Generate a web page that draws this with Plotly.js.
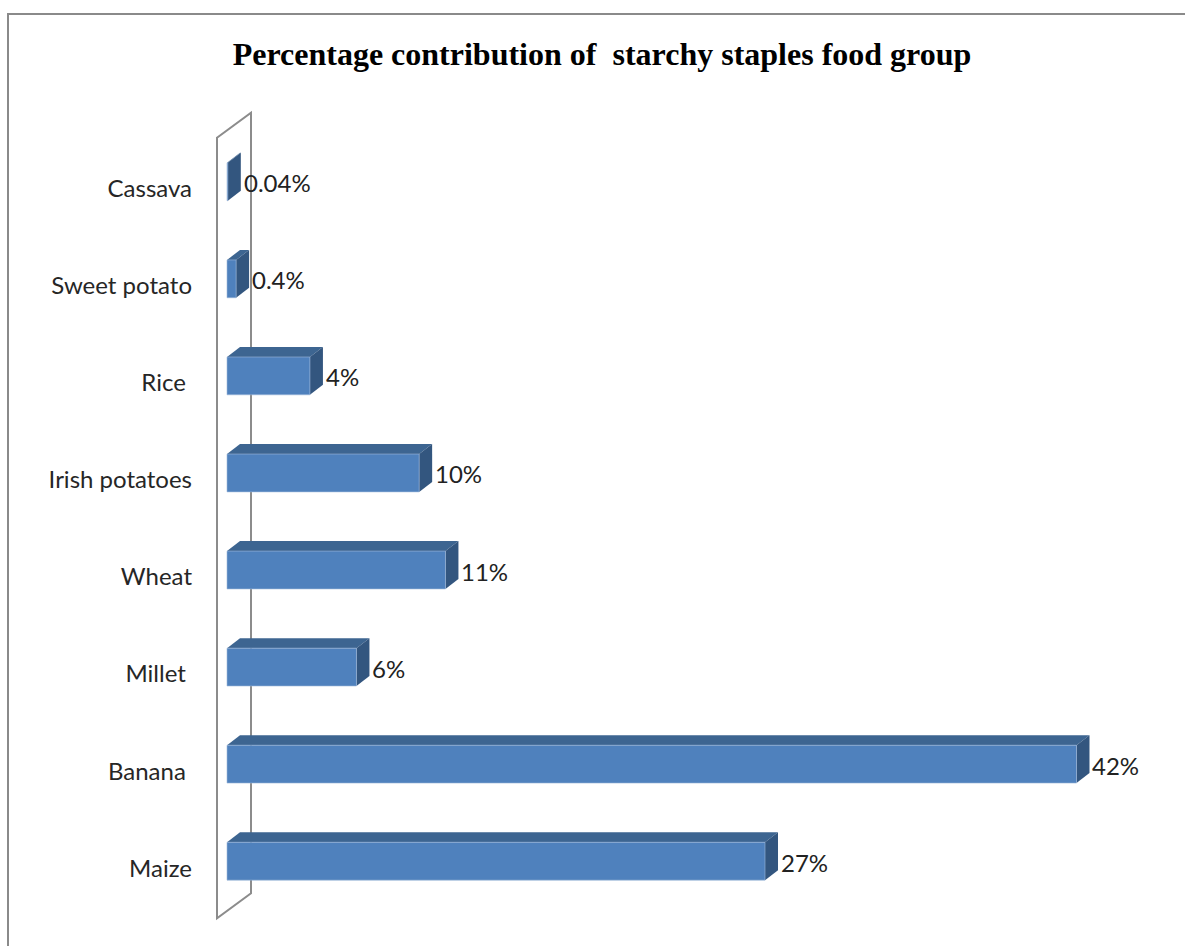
<!DOCTYPE html>
<html>
<head>
<meta charset="utf-8">
<script src="https://cdn.plot.ly/plotly-3.0.1.min.js"></script>
<style>
  html, body { margin:0; padding:0; background:#fff; overflow:hidden; }
  #chart { position:absolute; left:0; top:0; width:1185px; height:946px; }
  #frame { position:absolute; left:7px; top:13px; width:1300px; height:1100px;
           border-left:2px solid #8a8a8a; border-top:2px solid #8a8a8a; pointer-events:none; z-index:5; }
</style>
</head>
<body>
<div id="chart"></div>
<div id="frame"></div>
<script>
// ---- data (bottom to top, as drawn) ----
const categories  = ["Maize", "Banana ", "Millet ", "Wheat", "Irish potatoes", "Rice ", "Sweet potato", "Cassava"];
const values      = [26.6, 42, 6.4, 10.8, 9.5, 4.1, 0.45, 0.04];
const valueLabels = ["27%", "42%", "6%", "11%", "10%", "4%", "0.4%", "0.04%"];
const titleText   = "Percentage contribution of&nbsp; starchy staples food group";

// ---- layout geometry ----
const W = 1185, H = 946;
const M = { l: 212, r: 55, t: 109, b: 12 };
const plotW = W - M.l - M.r, plotH = H - M.t - M.b;
const pxPerX = 20.226;                 // pixels per percentage point
const x0px = 15;                       // pixel offset of the value 0 from plot left edge
const xRange = [-x0px / pxPerX, (plotW - x0px) / pxPerX];
const yRange = [-0.75, categories.length - 0.25];
const pxPerY = plotH / (yRange[1] - yRange[0]);
const barFrac = 0.39;
const DX = 13 / pxPerX, DY = 10 / pxPerY;   // 3-D depth offsets in data units

const yIdx = categories.map((_, i) => i);
const tickText = categories.map(c => c.replace(/ /g, "\u00a0"));

const FRONT = "#4f81bd", TOP = "#3d6591", SIDE = "#33567f";

const shapes = [];
// left wall (floor of 3-D chart)
const wl = -10 / pxPerX, wr = 24 / pxPerX;
const n = categories.length;
const wbF = -0.5 - 8.5 / pxPerY, wbB = -0.5 + 16.5 / pxPerY;
const wtF = (n - 0.5) - 4.5 / pxPerY, wtB = (n - 0.5) + 20.5 / pxPerY;
shapes.push({
  type: "path", xref: "x", yref: "y", layer: "below",
  path: `M ${wl},${wbF} L ${wl},${wtF} L ${wr},${wtB} L ${wr},${wbB} Z`,
  line: { color: "#8c8c8c", width: 2 }, fillcolor: "rgba(255,255,255,0)"
});
// top and side faces of each bar
yIdx.forEach((y, i) => {
  const v = values[i];
  const yt = y + barFrac / 2, yb = y - barFrac / 2;
  shapes.push({
    type: "path", xref: "x", yref: "y", layer: "below",
    path: `M 0,${yt} L ${v},${yt} L ${v + DX},${yt + DY} L ${DX},${yt + DY} Z`,
    fillcolor: TOP, line: { width: 0 }
  });
  shapes.push({
    type: "path", xref: "x", yref: "y", layer: "below",
    path: `M ${v},${yb} L ${v + DX},${yb + DY} L ${v + DX},${yt + DY} L ${v},${yt} Z`,
    fillcolor: SIDE, line: { width: 0 }
  });
});

const annotations = yIdx.map((y, i) => ({
  x: values[i], y: y, xref: "x", yref: "y",
  text: valueLabels[i], showarrow: false,
  xanchor: "left", yanchor: "middle", xshift: 13 + 1, yshift: -1,
  font: { family: "Lato, 'Open Sans', sans-serif", size: 24, color: "#222" }
}));

const trace = {
  type: "bar", orientation: "h",
  x: values, y: yIdx,
  marker: { color: FRONT, line: { color: "#9fb9da", width: 0.6 } },
  hoverinfo: "skip"
};

const layout = {
  width: W, height: H,
  margin: M,
  paper_bgcolor: "#fff", plot_bgcolor: "rgba(0,0,0,0)",
  showlegend: false,
  bargap: 1 - barFrac,
  title: {
    text: titleText,
    x: 602 / W, xanchor: "center", xref: "container",
    y: 1 - 54 / H, yanchor: "middle", yref: "container",
    font: { family: "'Liberation Serif', 'Times New Roman', serif", size: 32, weight: 700, color: "#000" }
  },
  xaxis: { range: xRange, visible: false, fixedrange: true },
  yaxis: {
    range: yRange, tickmode: "array", tickvals: yIdx, ticktext: tickText,
    showgrid: false, zeroline: false, showline: false, ticks: "",
    ticklabelstandoff: 19, ticklabelshift: 7,
    tickfont: { family: "Lato, 'Open Sans', sans-serif", size: 24, color: "#262626" },
    fixedrange: true
  },
  shapes: shapes,
  annotations: annotations
};

Plotly.newPlot("chart", [trace], layout, { displayModeBar: false, staticPlot: true });
</script>
</body>
</html>
